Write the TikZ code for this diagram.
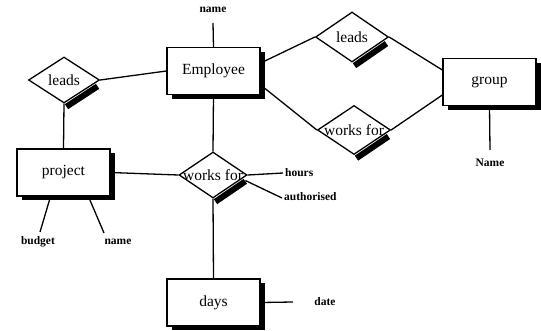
\documentclass[tikz,border=0pt]{standalone}
\usepackage{fontspec}
\setmainfont{Liberation Serif}
\usetikzlibrary{shapes.geometric,shadows,calc}
\begin{document}
\begin{tikzpicture}[x=1pt,y=-1pt,
  ent/.style={draw,line width=1.3pt,fill=white,rectangle,minimum width=93pt,minimum height=47pt,
    font=\fontsize{15.5}{16}\selectfont,
    general shadow={fill=black,shadow xshift=5pt,shadow yshift=-4pt}},
  rel/.style={draw,line width=1.3pt,fill=white,diamond,inner sep=0pt},
  reltext/.style={font=\fontsize{15.5}{16}\selectfont,inner sep=0pt},
  attr/.style={font=\bfseries\fontsize{11.5}{12}\selectfont,inner sep=1pt},
  conn/.style={line width=1.3pt},
  shbar/.style={line width=6pt,line cap=butt}]
\useasboundingbox (0,0) rectangle (541,330);

% entities
\node[ent] (emp) at (213.5,71) {Employee};
\node[ent] (grp) at (489.5,82) {group};
\node[ent] (proj) at (63.5,172.5) {project};
\node[ent] (days) at (213.5,302.5) {days};

% relationships
\node[rel,minimum width=73pt,minimum height=50pt] (leadsR) at (352,37) {};
\node[rel,minimum width=73pt,minimum height=49pt] (worksR) at (354,130) {};
\node[rel,minimum width=71pt,minimum height=46pt] (leadsL) at (64,80) {};
\node[rel,minimum width=68pt,minimum height=46pt] (worksC) at (213,175) {};

\node[reltext] (tleadsR) at (leadsR.center) {leads};
\node[reltext] (tworksR) at (worksR.center) {works for};
\node[reltext] (tleadsL) at (leadsL.center) {leads};
\node[reltext] (tworksC) at (worksC.center) {works for};

% shadow bars of diamonds
\foreach \d in {leadsR,worksR,leadsL,worksC}{
  \draw[shbar] ($(\d.east)!0.14!(\d.south)+(2.5,3)$) -- ($(\d.south)+(2.5,3)$);
}

% attribute labels
\node[attr] (aname) at (213,10) {name};
\node[attr] (gname) at (490,163) {Name};
\node[attr,anchor=west] (hours) at (284,173) {hours};
\node[attr,anchor=west] (auth) at (283,197) {authorised};
\node[attr] (budget) at (38,242) {budget};
\node[attr] (pname) at (118,242) {name};
\node[attr] (date) at (325,302) {date};

\coordinate (cname) at (213,23);
\coordinate (cgname) at (490,150);
\coordinate (chours) at (283,173);
\coordinate (cauth) at (282,198);
\coordinate (cbudget) at (40,232);
\coordinate (cpname) at (104,233);
\coordinate (cdate) at (293,302);

% connectors
\draw[conn] (emp.north) -- (cname);
\draw[conn] (leadsL.east) -- (emp.west);
\draw[conn] (leadsL.south) -- (proj.north);
\draw[conn] ($(emp.east)+(0,-8)$) -- (leadsR.west);
\draw[conn] ($(emp.east)+(0,14)$) -- (worksR.west);
\draw[conn] (leadsR.east) -- ($(grp.west)+(0,-12)$);
\draw[conn] (worksR.east) -- ($(grp.west)+(0,13)$);
\draw[conn] (emp.south) -- (worksC.north);
\draw[conn] (proj.east) -- (worksC.west);
\draw[conn] (worksC.south) -- (days.north);
\draw[conn] (worksC.east) -- (chours);
\draw[conn] ($(worksC.east)!0.15!(worksC.south)+(3,2)$) -- (cauth);
\draw[conn] ($(proj.south)+(-13,0)$) -- (cbudget);
\draw[conn] ($(proj.south)+(25,0)$) -- (cpname);
\draw[conn] (days.east) -- (cdate);
\draw[conn] (grp.south) -- (cgname);
\end{tikzpicture}
\end{document}
